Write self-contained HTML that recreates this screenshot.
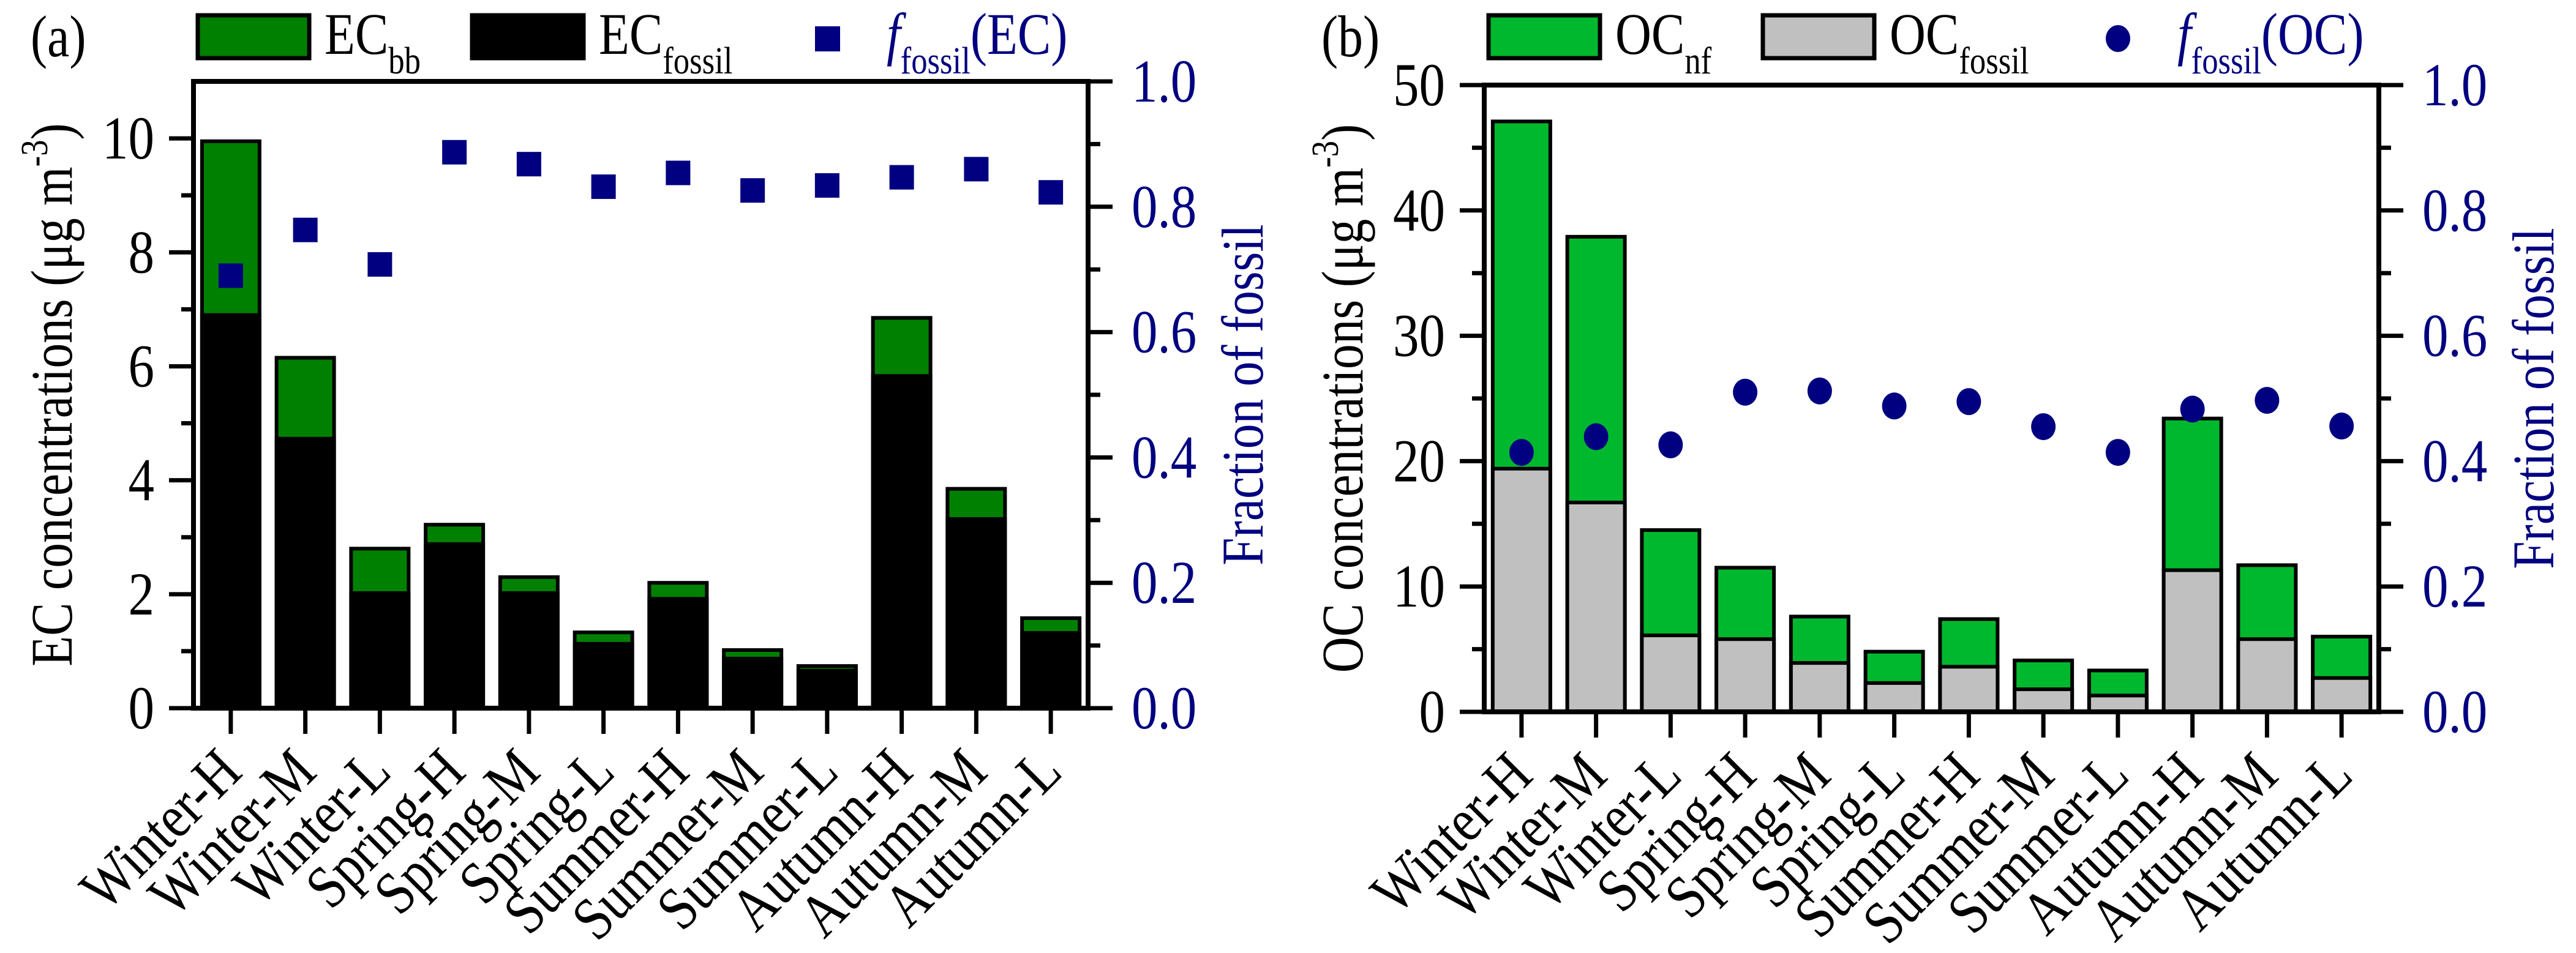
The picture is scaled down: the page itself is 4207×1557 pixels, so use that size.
<!DOCTYPE html>
<html><head><meta charset="utf-8"><style>
html,body{margin:0;padding:0;background:#fff;}
svg, svg text{font-family:"Liberation Serif","Times New Roman","DejaVu Serif",serif;}
</style></head><body>
<svg id="chart" width="4207" height="1552" viewBox="0 0 4207 1552" xmlns="http://www.w3.org/2000/svg" font-family="Liberation Serif, Times New Roman, DejaVu Serif, serif"></svg>
<script>
const categories = ["Winter-H","Winter-M","Winter-L","Spring-H","Spring-M","Spring-L","Summer-H","Summer-M","Summer-L","Autumn-H","Autumn-M","Autumn-L"];
const ecTotal = [9.95,6.15,2.8,3.22,2.3,1.33,2.2,1.02,0.74,6.85,3.85,1.58];
const ecFossil = [6.9,4.73,2.02,2.88,2.02,1.13,1.92,0.87,0.66,5.83,3.32,1.32];
const ecFraction = [0.69,0.763,0.708,0.887,0.868,0.832,0.854,0.826,0.834,0.847,0.86,0.823];
const ocTotal = [47.1,37.9,14.5,11.5,7.6,4.8,7.4,4.1,3.3,23.4,11.7,6.0];
const ocFossil = [19.4,16.7,6.1,5.8,3.9,2.3,3.6,1.8,1.3,11.3,5.8,2.7];
const ocFraction = [0.414,0.439,0.426,0.51,0.512,0.488,0.495,0.455,0.414,0.483,0.497,0.456];
const ecTicks = ["0","2","4","6","8","10"];
const ocTicks = ["0","10","20","30","40","50"];
const fracTicks = ["0.0","0.2","0.4","0.6","0.8","1.0"];

const NS="http://www.w3.org/2000/svg";
const FONT='Liberation Serif, Times New Roman, DejaVu Serif, serif';
const SX=0.85;
const svg=document.getElementById('chart');
function mk(tag,attrs,parent){const e=document.createElementNS(NS,tag);for(const k in attrs)e.setAttribute(k,attrs[k]);if(tag==='text')e.setAttribute('font-family',FONT);(parent||svg).appendChild(e);return e;}
function txt(x,y,rot,attrs,parent){
  attrs.x=0;attrs.y=0;
  attrs.transform=`translate(${x},${y}) rotate(${rot}) scale(${SX},1)`;
  return mk('text',attrs,parent);
}

function panel(o){
  const g=mk('g',{});
  
  
  const L=o.left,R=o.right,T=o.top,B=o.bottom;
  const bw=(R-L)/categories.length;
  const xC=i=>L+bw*(i+0.5);
  const yL=v=>B-(v/o.ymax)*(B-T);
  const yR=v=>B-v*(B-T);
  for(let i=0;i<categories.length;i++){
    const x=xC(i)-47;
    const top=mk('rect',{x:x,y:yL(o.total[i]),width:94,height:yL(0)-yL(o.total[i]),fill:o.topColor,stroke:'#000','stroke-width':6},g);
    
    
    const bot=mk('rect',{x:x,y:yL(o.fossil[i]),width:94,height:yL(0)-yL(o.fossil[i]),fill:o.botColor,stroke:'#000','stroke-width':6},g);
    
    
  }
  const fr=mk('rect',{x:L,y:T,width:R-L,height:B-T,fill:'none',stroke:'#000','stroke-width':8},g);
  
  
  const step=o.step;
  for(let k=0;k<=10;k++){
    const v=k*step/2, y=yL(v), major=k%2===0;
    mk('line',{x1:L,x2:L-(major?40:20),y1:y,y2:y,stroke:'#000','stroke-width':7},g);
    if(major){
      const t=txt(L-64,y+33,0,{'font-size':100,'text-anchor':'end',fill:'#000'},g);
      t.textContent=o.ticks[k/2];
      
      
    }
  }
  for(let k=0;k<=10;k++){
    const v=k/10, y=yR(v), major=k%2===0;
    mk('line',{x1:R,x2:R+(major?40:20),y1:y,y2:y,stroke:'#000','stroke-width':7},g);
    if(major){
      const t=txt(R+71,y+33,0,{'font-size':100,fill:'#000080'},g);
      t.textContent=fracTicks[k/2];
      
      
    }
  }
  for(let i=0;i<categories.length;i++){
    const cx=xC(i);
    mk('line',{x1:cx,x2:cx,y1:B,y2:B+42,stroke:'#000','stroke-width':7},g);
    const t=txt(cx+22,B+108,-45,{'font-size':100,'text-anchor':'end',fill:'#000'},g);
    t.textContent=categories[i];
    
    
  }
  for(let i=0;i<categories.length;i++){
    const cx=xC(i), cy=yR(o.frac[i]);
    let m;
    if(o.marker==='square') m=mk('rect',{x:cx-20,y:cy-20,width:40,height:40,fill:'#000080'},g);
    else m=mk('ellipse',{cx:cx,cy:cy,rx:20,ry:22,fill:'#000080'},g);
    
    
  }
  const yt=txt(L-199,(T+B)/2,-90,{'font-size':96,'text-anchor':'middle',fill:'#000'},g);
  yt.innerHTML=o.ylabel+' concentrations (μg m<tspan dy="-40" font-size="62">-3</tspan><tspan dy="40">)</tspan>';
  
  
  const rt=txt(R+285,(T+B)/2,-90,{'font-size':96,'text-anchor':'middle',fill:'#000080'},g);
  rt.textContent='Fraction of fossil';
  
  
  const pl=txt(L-266,92,0,{'font-size':96,fill:'#000'},g);
  pl.textContent=o.label;
  
  
  const lg=mk('g',{},g);
  
  
  const r1=mk('rect',{x:L+7,y:25,width:182,height:70,fill:o.topColor,stroke:'#000','stroke-width':7},lg);
  
  
  const t1=txt(L+214,88,0,{'font-size':96,fill:'#000'},lg);
  t1.innerHTML=o.ylabel+'<tspan dy="32" font-size="62">'+o.topSub+'</tspan>';
  
  
  const r2=mk('rect',{x:L+455,y:25,width:182,height:70,fill:o.botColor,stroke:'#000','stroke-width':7},lg);
  
  
  const t2=txt(L+662,88,0,{'font-size':96,fill:'#000'},lg);
  t2.innerHTML=o.ylabel+'<tspan dy="32" font-size="62">fossil</tspan>';
  
  
  let lm;
  if(o.marker==='square') lm=mk('rect',{x:L+1015,y:43,width:41,height:41,fill:'#000080'},lg);
  else lm=mk('ellipse',{cx:L+1035,cy:63,rx:20,ry:22,fill:'#000080'},lg);
  
  
  const t3=txt(L+1132,88,0,{'font-size':96,fill:'#000080'},lg);
  t3.innerHTML='<tspan font-style="italic">f</tspan><tspan dy="32" font-size="62">fossil</tspan><tspan dy="-32">('+o.ylabel+')</tspan>';
  
  
}

panel({name:'panel-a-ec',label:'(a)',left:316,right:1777,top:133,bottom:1157,ymax:11,step:2,total:ecTotal,fossil:ecFossil,frac:ecFraction,ticks:ecTicks,topColor:'#008000',botColor:'#000000',topKey:'ec-bb',botKey:'ec-fossil',topSub:'bb',ylabel:'EC',marker:'square'});
panel({name:'panel-b-oc',label:'(b)',left:2424,right:3885,top:139,bottom:1163,ymax:50,step:10,total:ocTotal,fossil:ocFossil,frac:ocFraction,ticks:ocTicks,topColor:'#00b82e',botColor:'#c0c0c0',topKey:'oc-nf',botKey:'oc-fossil',topSub:'nf',ylabel:'OC',marker:'circle'});
</script>
</body></html>
